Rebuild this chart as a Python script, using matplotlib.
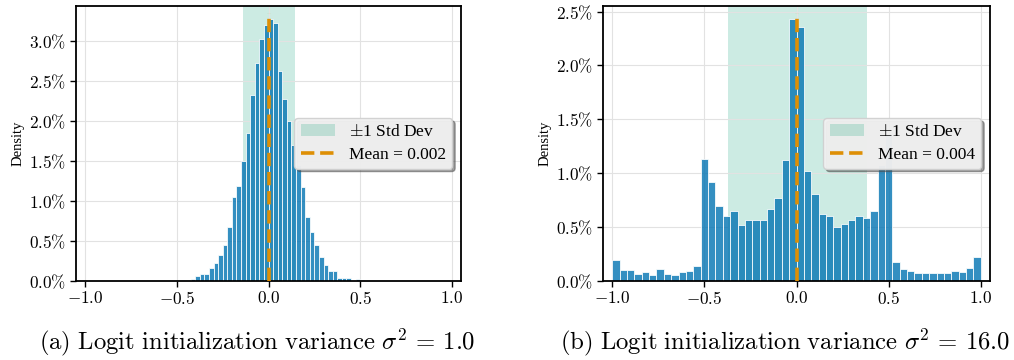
import matplotlib
matplotlib.use("Agg")
import matplotlib.pyplot as plt
import numpy as np
from matplotlib.ticker import FuncFormatter, MultipleLocator

plt.rcParams['font.family'] = ['Liberation Serif', 'DejaVu Serif']
plt.rcParams['mathtext.fontset'] = 'cm'

# density values (as shown on the axis, in %) per bin over [-1, 1]
# (a) sigma^2 = 1.0 : 80 bins, only [-0.5, 0.55] non-zero
dens_a = [0.0] * 20 + [
    0.005, 0.01, 0.01, 0.02, 0.0625, 0.083, 0.093, 0.165, 0.22, 0.33,
    0.445, 0.68, 1.05, 1.19, 1.5, 1.85, 2.32, 2.72, 3.03, 3.20,
    3.275, 3.23, 2.63, 2.28, 2.0, 1.7, 1.45, 1.18, 0.80, 0.61,
    0.45, 0.30, 0.20, 0.13, 0.13, 0.04, 0.04, 0.035, 0.005, 0.02,
    0.01, 0.005,
] + [0.0] * 18
nbins_a = 80
mean_a, std_a = 0.002, 0.142

# (b) sigma^2 = 16.0 : 50 bins
dens_b = [
    0.198, 0.099, 0.099, 0.065, 0.084, 0.053, 0.108, 0.065, 0.053, 0.080,
    0.090, 0.142, 1.13, 0.92, 0.70, 0.60, 0.65, 0.517, 0.57, 0.563,
    0.57, 0.672, 0.77, 1.12, 2.43, 2.36, 1.02, 0.81, 0.625, 0.607,
    0.505, 0.526, 0.567, 0.604, 0.585, 0.647, 1.08, 1.35, 0.173, 0.115,
    0.090, 0.071, 0.074, 0.074, 0.074, 0.071, 0.093, 0.084, 0.124, 0.22,
]
nbins_b = 50
mean_b, std_b = 0.004, 0.377

captions = [r'$\mathrm{(a)\ Logit\ initialization\ variance}\ \sigma^2\,=\,1.0$',
            r'$\mathrm{(b)\ Logit\ initialization\ variance}\ \sigma^2\,=\,16.0$']

blue = '#0173b2'
orange = '#de8f05'
green = '#029e73'

fig = plt.figure(figsize=(10.14, 3.6), dpi=100)
ax1 = fig.add_axes([76 / 1014, 79 / 360, 385 / 1014, 275 / 360])
ax2 = fig.add_axes([603 / 1014, 79 / 360, 387 / 1014, 275 / 360])


def draw(ax, dens, nbins, mean, std):
    edges = np.linspace(-1, 1, nbins + 1)
    centers = (edges[:-1] + edges[1:]) / 2
    ax.axvspan(mean - std, mean + std, color=green, alpha=0.2, lw=0,
               label=r'$\pm$1 Std Dev', zorder=0)
    ax.hist(centers, bins=edges, weights=dens, color=blue, alpha=0.8,
            edgecolor='white', linewidth=0.7, zorder=2)
    ax.axvline(mean, ymax=0.975, color=orange, ls='--', lw=2.6,
               label=f'Mean = {mean:.3f}', zorder=3)
    ax.set_xlim(-1.05, 1.05)
    ax.xaxis.set_major_locator(MultipleLocator(0.5))
    ax.yaxis.set_major_locator(MultipleLocator(0.5))
    ax.xaxis.set_major_formatter(FuncFormatter(lambda v, p: rf'${v:.1f}$'))
    ax.yaxis.set_major_formatter(FuncFormatter(lambda v, p: rf'${v:.1f}\%$'))
    ax.tick_params(labelsize=12.3, width=1.0, length=4)
    ax.grid(True, color='#e2e2e2', lw=0.8)
    ax.set_axisbelow(True)
    for s in ax.spines.values():
        s.set_linewidth(1.3)
        s.set_color('black')
    ax.set_ylabel('Density', fontsize=10.5, labelpad=3)
    leg = ax.legend(loc='center right', fontsize=12.5, shadow=True,
                    fancybox=True, framealpha=0.95, labelspacing=0.35,
                    borderpad=0.35, handlelength=2.0)
    leg.get_frame().set_facecolor('#f2f2f2')
    leg.get_frame().set_edgecolor('#d0d0d0')


draw(ax1, dens_a, nbins_a, mean_a, std_a)
draw(ax2, dens_b, nbins_b, mean_b, std_b)

fig.text(0.2535, 0.05, captions[0], ha='center', va='center', fontsize=17.8)
fig.text(0.7747, 0.05, captions[1], ha='center', va='center', fontsize=17.8)

fig.savefig('out.png', dpi=100)
